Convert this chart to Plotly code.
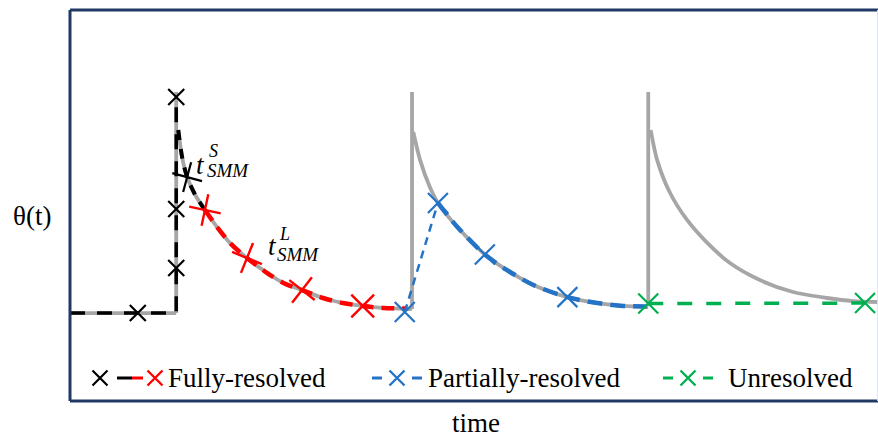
import plotly.graph_objects as go

# ---------------- data (time in arbitrary units 0-100, theta normalised: baseline 0, spike 1) -------------
base_t = [0.12, 13.25]
base_theta = [0.0, 0.0]

spike_t = [13.25, 42.4, 71.6]
spike_bottom = [0.0, 0.018, 0.032]
spike_top = [1.0, 1.0, 1.0]
flat_between_t = [42.15, 42.4]
flat_between_theta = [0.018, 0.018]

decay1_t = [13.5, 14.0, 14.6, 15.6, 16.8, 18.3, 19.9, 22.0, 24.5, 26.5, 28.8, 31.4, 33.9, 36.3, 38.8, 42.2]
decay1_theta = [0.828, 0.701, 0.615, 0.534, 0.466, 0.389, 0.317, 0.249, 0.181, 0.136, 0.104, 0.068, 0.045, 0.032, 0.023, 0.018]

decay2_t = [42.55, 43.4, 44.6, 45.6, 48.0, 51.4, 54.1, 57.4, 61.6, 65.3, 68.5, 71.6]
decay2_theta = [0.819, 0.692, 0.570, 0.498, 0.389, 0.265, 0.195, 0.127, 0.072, 0.045, 0.032, 0.027]

decay3_t = [71.9, 72.7, 74.3, 76.4, 78.9, 81.7, 85.4, 89.5, 93.7, 96.9, 100.0]
decay3_theta = [0.828, 0.692, 0.543, 0.421, 0.317, 0.226, 0.149, 0.095, 0.068, 0.054, 0.050]

# Fully-resolved (black part)
black_step_t = [0.12, 13.25, 13.25]
black_step_theta = [0.0, 0.0, 0.977]
black_curve_t = [13.5, 14.0, 14.6, 15.6, 16.8]
black_curve_theta = [0.828, 0.701, 0.615, 0.534, 0.466]
black_mk_t = [8.5, 13.25, 13.25, 13.25]
black_mk_theta = [0.0, 0.204, 0.471, 0.977]
tS_t = [14.6]
tS_theta = [0.615]

# Fully-resolved (red part)
red_t = [16.8, 18.3, 19.9, 22.0, 24.5, 26.5, 28.8, 31.4, 33.9, 36.3, 38.8, 41.8]
red_theta = [0.466, 0.389, 0.317, 0.249, 0.181, 0.136, 0.104, 0.068, 0.045, 0.032, 0.023, 0.020]
red_mk_t = [16.8, 22.0, 28.8, 36.3]
red_mk_theta = [0.466, 0.249, 0.104, 0.032]
red_mk_angle = [12, 22, 38, 45]

# Partially-resolved
blue_jump_t = [41.5, 45.6]
blue_jump_theta = [0.005, 0.498]
blue_curve_t = [45.6, 48.0, 51.4, 54.1, 57.4, 61.6, 65.3, 68.5, 71.4]
blue_curve_theta = [0.498, 0.389, 0.265, 0.195, 0.127, 0.072, 0.045, 0.032, 0.030]
blue_mk_t = [41.5, 45.6, 51.4, 61.6]
blue_mk_theta = [0.005, 0.498, 0.265, 0.072]

# Unresolved
green_t = [71.6, 98.4]
green_theta = [0.043, 0.045]

legend_labels = ["Fully-resolved", "Partially-resolved", "Unresolved"]

# ---------------- styles ----------------
GRAY = "#a6a6a6"
BLACK = "#000000"
RED = "#ff0000"
BLUE = "#2473c6"
GREEN = "#00b050"
NAVY = "#1f3864"
SERIF = "Liberation Serif, Times New Roman, serif"

fig = go.Figure()

def line(x, y, color, width, dash=None, shape="linear", xaxis="x", yaxis="y"):
    fig.add_trace(go.Scatter(x=x, y=y, mode="lines", xaxis=xaxis, yaxis=yaxis,
                             line=dict(color=color, width=width, dash=dash, shape=shape, smoothing=0.8),
                             hoverinfo="skip", showlegend=False, cliponaxis=False))

def marks(x, y, color, size, symbol="x-thin", width=2.2, angle=0, xaxis="x", yaxis="y"):
    fig.add_trace(go.Scatter(x=x, y=y, mode="markers", xaxis=xaxis, yaxis=yaxis,
                             marker=dict(symbol=symbol, size=size, angle=angle,
                                         line=dict(color=color, width=width)),
                             hoverinfo="skip", showlegend=False, cliponaxis=False))

# gray reference curve
line(base_t, base_theta, GRAY, 3.8)
line(flat_between_t, flat_between_theta, GRAY, 3.8)
for st, sb, sp in zip(spike_t, spike_bottom, spike_top):
    line([st, st], [sb, sp], GRAY, 3.8)
line(decay1_t, decay1_theta, GRAY, 3.8, shape="spline")
line(decay2_t, decay2_theta, GRAY, 3.8, shape="spline")
line(decay3_t, decay3_theta, GRAY, 3.8, shape="spline")

# Fully-resolved
line(black_step_t, black_step_theta, BLACK, 3.5, dash="15px,12px")
line(black_curve_t, black_curve_theta, BLACK, 4, dash="10px,9px", shape="spline")
line(red_t, red_theta, RED, 4.5, dash="13px,8px", shape="spline")

# Partially-resolved
line(blue_jump_t, blue_jump_theta, BLUE, 2.5, dash="8px,6px")
line(blue_curve_t, blue_curve_theta, BLUE, 4.5, dash="15px,8px", shape="spline")

# Unresolved
line(green_t, green_theta, GREEN, 3.5, dash="15px,14px")

# markers
marks(black_mk_t, black_mk_theta, BLACK, 16, width=2.2)
marks(tS_t, tS_theta, BLACK, 22, symbol="cross-thin", width=2.2, angle=15)
marks(red_mk_t, red_mk_theta, RED, 23, symbol="cross-thin", width=2.4, angle=red_mk_angle)
marks(blue_mk_t, blue_mk_theta, BLUE, 20, width=2.2)
marks(green_t, green_theta, GREEN, 20, width=2.2)

# ---------------- legend (drawn on an overlay [0,1] axis pair) ----------------
L, R, T, B, W, H = 70, 0, 10, 37, 878, 438
PW, PH = W - L - R, H - T - B
fx = lambda px: (px - L) / PW
fy = lambda py: (H - B - py) / PH
ly = fy(378)

marks([fx(100)], [ly], BLACK, 15, width=2.2, xaxis="x2", yaxis="y2")
line([fx(117), fx(132)], [ly, ly], BLACK, 3, xaxis="x2", yaxis="y2")
line([fx(132), fx(143)], [ly, ly], RED, 3, xaxis="x2", yaxis="y2")
marks([fx(155)], [ly], RED, 15, width=2.4, xaxis="x2", yaxis="y2")

line([fx(372), fx(382)], [ly, ly], BLUE, 3, xaxis="x2", yaxis="y2")
marks([fx(397)], [ly], BLUE, 15, width=2.4, xaxis="x2", yaxis="y2")
line([fx(412), fx(422)], [ly, ly], BLUE, 3, xaxis="x2", yaxis="y2")

line([fx(663), fx(673)], [ly, ly], GREEN, 3, xaxis="x2", yaxis="y2")
marks([fx(688)], [ly], GREEN, 15, width=2.4, xaxis="x2", yaxis="y2")
line([fx(703), fx(713)], [ly, ly], GREEN, 3, xaxis="x2", yaxis="y2")

annotations = []
for lab, px in zip(legend_labels, [166, 426, 726]):
    annotations.append(dict(text=lab, x=fx(px), y=ly, xref="paper", yref="paper",
                            xanchor="left", yanchor="middle", showarrow=False,
                            font=dict(family=SERIF, size=27, color=BLACK)))

# axis labels
annotations.append(dict(text="θ(t)", x=fx(32), y=fy(216), xref="paper", yref="paper",
                        xanchor="center", yanchor="middle", showarrow=False,
                        font=dict(family=SERIF, size=27, color=BLACK)))
annotations.append(dict(text="time", x=fx(476), y=fy(423), xref="paper", yref="paper",
                        xanchor="center", yanchor="middle", showarrow=False,
                        font=dict(family=SERIF, size=27, color=BLACK)))

# t_SMM labels
MATH = dict(family=SERIF, color=BLACK)
def smm_label(tx, ty, sup, ox_sup, oy_sup, ox_sub, oy_sub):
    annotations.append(dict(text="<i>t</i>", x=tx, y=ty, xref="x", yref="y", showarrow=False,
                            xanchor="center", yanchor="middle", font=dict(size=27, **MATH)))
    annotations.append(dict(text="<i>" + sup + "</i>", x=tx, y=ty, xref="x", yref="y", showarrow=False,
                            xanchor="center", yanchor="middle", xshift=ox_sup, yshift=oy_sup,
                            font=dict(size=18, **MATH)))
    annotations.append(dict(text="<i>SMM</i>", x=tx, y=ty, xref="x", yref="y", showarrow=False,
                            xanchor="left", yanchor="middle", xshift=ox_sub, yshift=oy_sub,
                            font=dict(size=19, **MATH)))

smm_label(16.3, 0.67, "S", 13, 14, 4, -6)
smm_label(25.1, 0.303, "L", 12, 12, 3, -8)

# frame
shapes = [
    dict(type="line", xref="paper", yref="paper", x0=0, x1=0, y0=0, y1=1, line=dict(color=NAVY, width=3)),
    dict(type="line", xref="paper", yref="paper", x0=0, x1=1, y0=1, y1=1, line=dict(color=NAVY, width=3)),
    dict(type="line", xref="paper", yref="paper", x0=0, x1=1, y0=0, y1=0, line=dict(color=NAVY, width=3)),
    dict(type="line", xref="paper", yref="paper", x0=0.9995, x1=0.9995, y0=0, y1=1,
         line=dict(color="#dfe6ee", width=1)),
]

fig.update_layout(
    width=W, height=H,
    margin=dict(l=L, r=R, t=T, b=B, pad=0),
    paper_bgcolor="white", plot_bgcolor="white",
    showlegend=False,
    xaxis=dict(range=[0.12, 100], visible=False, fixedrange=True),
    yaxis=dict(range=[-0.398, 1.371], visible=False, fixedrange=True),
    xaxis2=dict(range=[0, 1], overlaying="x", visible=False, fixedrange=True),
    yaxis2=dict(range=[0, 1], overlaying="y", visible=False, fixedrange=True),
    annotations=annotations,
    shapes=shapes,
)

fig.write_html("out.html", config={"displayModeBar": False},
               post_script="document.body.style.margin='0';document.body.style.overflow='hidden';")
